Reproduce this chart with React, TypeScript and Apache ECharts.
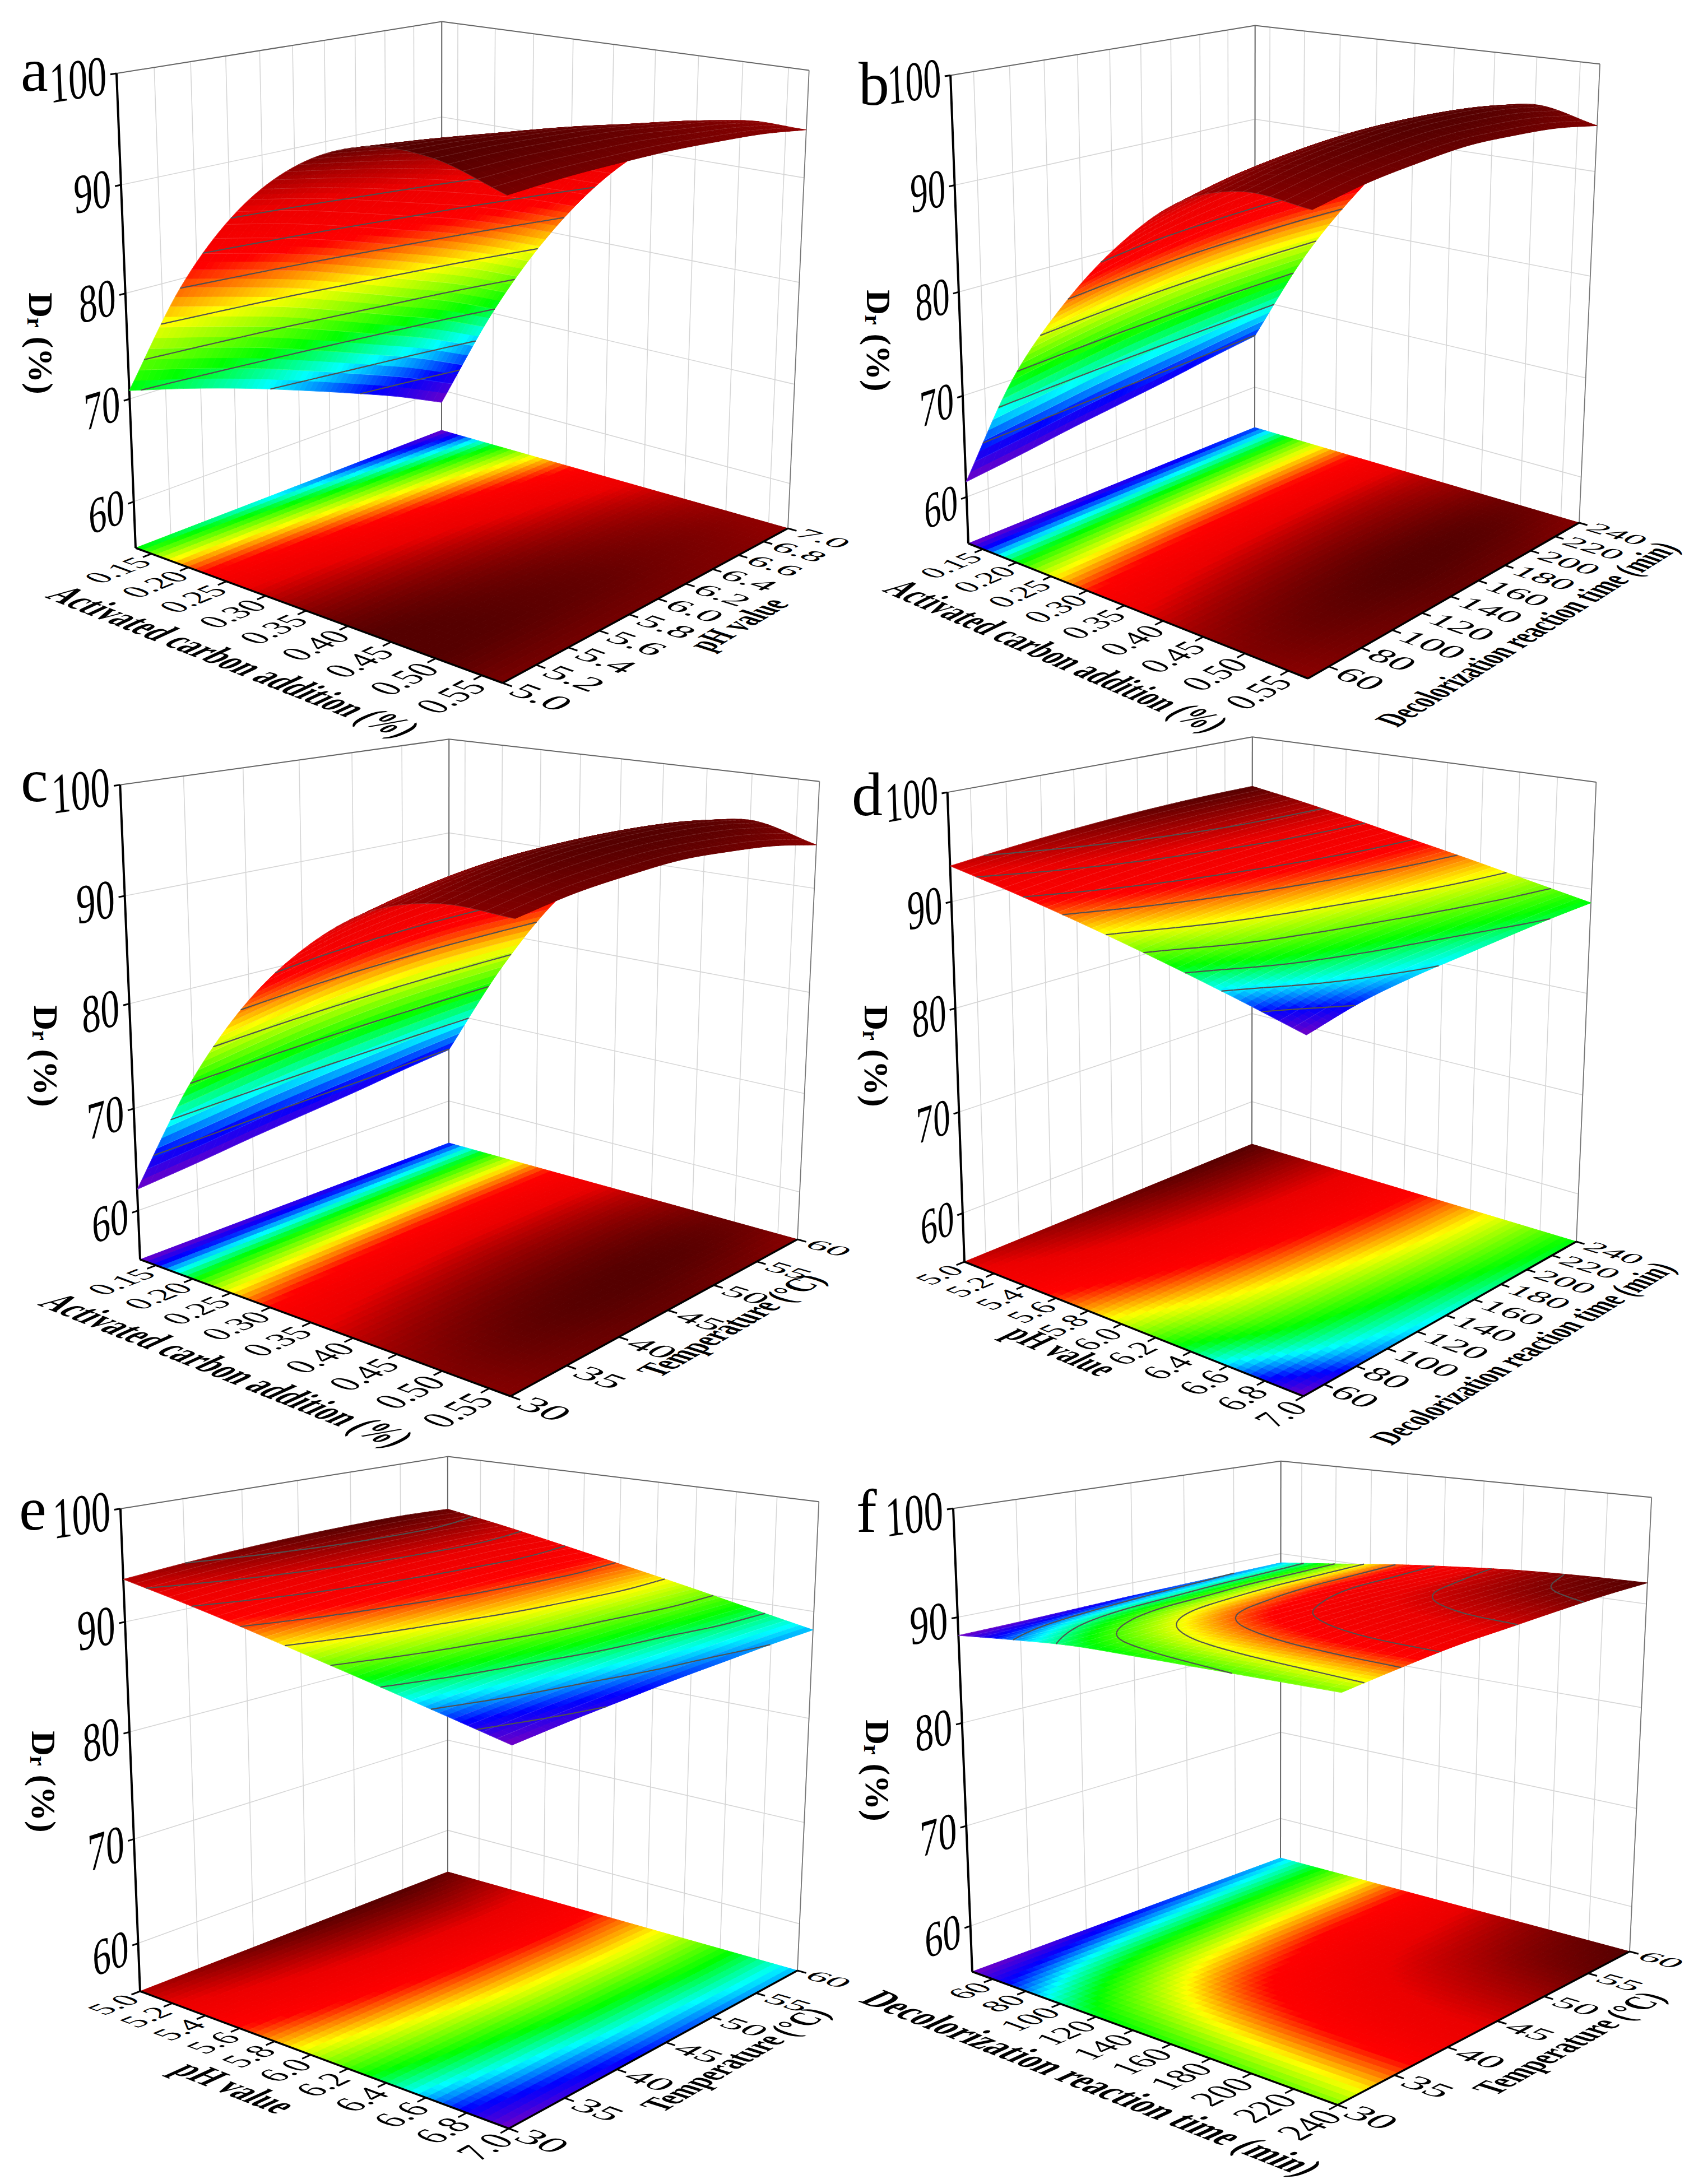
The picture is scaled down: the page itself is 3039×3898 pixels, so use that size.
import React, { useEffect, useRef } from "react";
import * as echarts from "echarts";

// ---------- tick labels ----------
const carbonLabels = ["0.15", "0.20", "0.25", "0.30", "0.35", "0.40", "0.45", "0.50", "0.55"];
const phLabels = ["5.0", "5.2", "5.4", "5.6", "5.8", "6.0", "6.2", "6.4", "6.6", "6.8", "7.0"];
const timeLabels = ["60", "80", "100", "120", "140", "160", "180", "200", "220", "240"];
const tempLabels = ["30", "35", "40", "45", "50", "55", "60"];
const zLabels = ["60", "70", "80", "90", "100"];

// ---------- surface values: rows = y-axis steps, columns = x-axis steps ----------
const surfaceA = [
  [70.8, 81.9, 89.9, 95.0, 97.5, 97.6, 95.8],
  [69.2, 80.4, 88.7, 94.1, 97.0, 97.5, 96.0],
  [67.4, 78.8, 87.2, 93.1, 96.3, 97.2, 96.0],
  [65.4, 76.9, 85.6, 91.9, 95.5, 96.8, 95.9],
  [63.3, 74.9, 84.0, 90.4, 94.5, 96.1, 95.6],
  [61.1, 72.9, 82.1, 89.0, 93.4, 95.4, 95.2],
  [58.6, 70.5, 80.0, 87.2, 92.0, 94.4, 94.5],
];
const surfaceB = [
  [61.5, 73.0, 81.3, 87.8, 92.5, 94.4, 94.0],
  [62.2, 73.9, 82.4, 89.2, 93.6, 95.4, 94.9],
  [63.0, 74.7, 83.2, 90.2, 94.3, 96.1, 95.4],
  [63.7, 75.3, 83.8, 90.8, 94.7, 96.5, 95.7],
  [64.4, 75.7, 84.1, 91.1, 94.7, 96.5, 95.5],
  [65.2, 75.9, 84.2, 91.0, 94.4, 96.2, 95.1],
  [65.9, 76.0, 84.0, 90.5, 93.8, 95.5, 94.3],
];
const surfaceC = [
  [62.1, 73.5, 82.3, 88.6, 92.8, 94.5, 94.4],
  [62.7, 74.4, 83.4, 90.0, 93.9, 95.6, 95.2],
  [63.4, 75.2, 84.3, 90.9, 94.7, 96.3, 95.6],
  [64.0, 75.8, 84.9, 91.5, 95.0, 96.6, 95.8],
  [64.6, 76.2, 85.2, 91.5, 95.0, 96.6, 95.5],
  [65.3, 76.4, 85.2, 91.2, 94.7, 96.3, 95.0],
  [65.9, 76.5, 85.0, 90.5, 94.0, 95.6, 94.1],
];
const surfaceD = [
  [93.3, 92.3, 91.2, 90.0, 88.7, 87.3, 85.8],
  [93.8, 92.85, 91.76, 90.6, 89.45, 88.2, 86.9],
  [94.2, 93.26, 92.2, 91.05, 89.9, 88.7, 87.5],
  [94.5, 93.57, 92.5, 91.4, 90.24, 89.05, 87.85],
  [94.7, 93.8, 92.75, 91.65, 90.54, 89.37, 88.2],
  [94.8, 93.9, 92.9, 91.84, 90.77, 89.63, 88.5],
  [94.8, 93.95, 92.97, 91.93, 90.9, 89.8, 88.7],
];
const surfaceE = [
  [93.8, 92.8, 91.7, 90.5, 89.3, 88.06, 86.8],
  [94.2, 93.2, 92.1, 90.9, 89.7, 88.46, 87.2],
  [94.5, 93.5, 92.4, 91.2, 90.0, 88.76, 87.5],
  [94.7, 93.73, 92.63, 91.46, 90.28, 89.04, 87.8],
  [94.8, 93.85, 92.76, 91.6, 90.45, 89.2, 88.0],
  [94.8, 93.88, 92.82, 91.7, 90.58, 89.39, 88.2],
  [94.6, 93.72, 92.7, 91.64, 90.57, 89.43, 88.3],
];
const surfaceF = [
  [88.3, 88.9, 89.4, 89.55, 89.65, 89.75, 89.85],
  [88.4, 89.2, 89.8, 90.15, 90.35, 90.45, 90.5],
  [88.55, 89.4, 90.1, 90.6, 90.85, 91.0, 91.05],
  [88.7, 89.5, 90.25, 90.8, 91.15, 91.3, 91.35],
  [88.8, 89.6, 90.35, 90.95, 91.35, 91.55, 91.65],
  [88.9, 89.65, 90.4, 91.0, 91.45, 91.75, 91.9],
  [89.0, 89.7, 90.45, 91.05, 91.55, 91.85, 92.0],
];

// ---------- contour levels ----------
const levelsA = [62.8, 66.5, 70.5, 74.2, 78, 81.8, 85.5, 89.2];
const levelsB = [66, 70, 74, 78, 82, 86];
const levelsC = [66, 70, 74, 78, 82, 86];
const levelsD = [86.8, 87.7, 88.5, 89.4, 90.2, 91.1, 91.9, 92.8, 93.6];
const levelsE = [87.4, 88.2, 89.1, 90, 90.85, 91.7, 92.6, 93.4, 94.2];
const levelsF = [88.9, 89.3, 89.7, 90.1, 90.5, 90.9, 91.4, 91.8];

// ---------- axes ----------
const carbonAxis = { labels: carbonLabels, min: 0.128, max: 0.572 };
const phAxis = { labels: phLabels, min: 5, max: 7 };
const timeAxis = { labels: timeLabels, min: 47.5, max: 240 };
const tempAxis = { labels: tempLabels, min: 30, max: 60 };

const XT_CARBON = "Activated carbon addition (%)";
const XT_PH = "pH value";
const XT_TIME = "Decolorization reaction time (min)";
const XT_TEMP = "Temperature (°C)";

// ---------- colour ramp ----------
const rampPos = [0, 0.11, 0.22, 0.33, 0.5, 0.65, 0.8, 1];
const rampRgb = [
  [116, 0, 196],
  [0, 0, 255],
  [0, 255, 255],
  [0, 255, 0],
  [255, 255, 0],
  [255, 0, 0],
  [235, 0, 0],
  [85, 0, 0],
];
function ramp(t: number) {
  const x = Math.max(0, Math.min(1, t));
  let i = 0;
  while (i < rampPos.length - 2 && x > rampPos[i + 1]) i++;
  const f = (x - rampPos[i]) / (rampPos[i + 1] - rampPos[i]);
  const m = rampRgb[i].map((a, k) => Math.round(a + (rampRgb[i + 1][k] - a) * f));
  return `rgb(${m[0]},${m[1]},${m[2]})`;
}

// ---------- panels: box corners on the page (L=left, B=back, R=right, F=front; b=floor, t=top) ----------
const panels: any[] = [
  {
    name: "a", letter: [37, 156], zTitle: [73, 613], z0: 55.4,
    Lt: [208, 133], Lb: [242, 978], Bt: [788, 40], Bb: [788, 768], Rt: [1444, 122], Rb: [1406, 943], Fb: [897, 1219],
    xA: carbonAxis, yA: phAxis, data: surfaceA, levels: levelsA, range: [58.6, 97.6],
    xT: XT_CARBON, xTp: [0.558, -0.254], xTs: [0.0018, 0.0025], yT: XT_PH, yTp: [1.19, 0.5], yTs: [0.0019, 0.0021],
  },
  {
    name: "b", letter: [1532, 181], zTitle: [1568, 608], z0: 55.3,
    Lt: [1697, 133], Lb: [1728, 970], Bt: [2239, 40], Bb: [2239, 763], Rt: [2855, 122], Rb: [2818, 933], Fb: [2334, 1211],
    xA: carbonAxis, yA: timeAxis, data: surfaceB, levels: levelsB, range: [61.5, 96.5],
    xT: XT_CARBON, xTp: [0.558, -0.25], xTs: [0.0018, 0.0025], yT: XT_TIME, yTp: [1.22, 0.435], yTs: [0.0018, 0.0021],
  },
  {
    name: "c", letter: [37, 1424], zTitle: [82, 1885], z0: 55.1,
    Lt: [215, 1408], Lb: [250, 2248], Bt: [801, 1313], Bb: [801, 2040], Rt: [1462, 1395], Rb: [1423, 2212], Fb: [911, 2492],
    xA: carbonAxis, yA: tempAxis, data: surfaceC, levels: levelsC, range: [62.1, 96.6],
    xT: XT_CARBON, xTp: [0.532, -0.252], xTs: [0.0018, 0.0025], yT: XT_TEMP, yTp: [1.136, 0.52], yTs: [0.002, 0.0021],
  },
  {
    name: "d", letter: [1520, 1449], zTitle: [1564, 1885], z0: 55.1,
    Lt: [1691, 1410], Lb: [1721, 2252], Bt: [2234, 1317], Bb: [2234, 2042], Rt: [2849, 1398], Rb: [2813, 2216], Fb: [2326, 2492],
    xA: phAxis, yA: timeAxis, data: surfaceD, levels: levelsD, range: [85.8, 94.8],
    xT: XT_PH, xTp: [0.495, -0.17], xTs: [0.00187, 0.0025], yT: XT_TIME, yTp: [1.225, 0.435], yTs: [0.0018, 0.0021],
  },
  {
    name: "e", letter: [34, 2724], zTitle: [78, 3180], z0: 55.3,
    Lt: [215, 2695], Lb: [250, 3554], Bt: [799, 2597], Bb: [799, 3341], Rt: [1461, 2681], Rb: [1423, 3517], Fb: [908, 3799],
    xA: phAxis, yA: tempAxis, data: surfaceE, levels: levelsE, range: [86.8, 94.8],
    xT: XT_PH, xTp: [0.495, -0.198], xTs: [0.00187, 0.0025], yT: XT_TEMP, yTp: [1.15, 0.52], yTs: [0.002, 0.0021],
  },
  {
    name: "f", letter: [1528, 2728], zTitle: [1566, 3160], z0: 55.35,
    Lt: [1702, 2694], Lb: [1735, 3519], Bt: [2285, 2600], Bb: [2285, 3316], Rt: [2947, 2680], Rb: [2908, 3483], Fb: [2387, 3757],
    xA: timeAxis, yA: tempAxis, data: surfaceF, levels: levelsF, range: [88.3, 92.0],
    xT: XT_TIME, xTp: [0.596, -0.222], xTs: [0.002, 0.0025], yT: XT_TEMP, yTp: [1.167, 0.5], yTs: [0.002, 0.0021],
  },
];

const FONT = "Liberation Serif";
const FLOOR_N = 50;
const SURF_N = 60;
const MESH_EVERY = 2;

// ---------- projection of (u, v, z) onto the page ----------
function makeProjector(p: any) {
  const [x0, y0] = p.Lb, [x1, y1] = p.Fb, [x2, y2] = p.Rb, [x3, y3] = p.Bb;
  const dx1 = x1 - x2, dx2 = x3 - x2, sx = x0 - x1 + x2 - x3;
  const dy1 = y1 - y2, dy2 = y3 - y2, sy = y0 - y1 + y2 - y3;
  const den = dx1 * dy2 - dx2 * dy1;
  const g = (sx * dy2 - dx2 * sy) / den;
  const h = (dx1 * sy - sx * dy1) / den;
  const a = x1 - x0 + g * x1, b = x3 - x0 + h * x3, c = x0;
  const d = y1 - y0 + g * y1, e = y3 - y0 + h * y3, f = y0;
  const base = (u: number, v: number) => [a * u + b * v + c, d * u + e * v + f, g * u + h * v + 1];
  const rows: number[][] = [];
  const rhs: number[] = [];
  const add = (u: number, v: number, top: number[]) => {
    const q = base(u, v);
    rows.push([1, 0, -top[0]]); rhs.push(top[0] * q[2] - q[0]);
    rows.push([0, 1, -top[1]]); rhs.push(top[1] * q[2] - q[1]);
  };
  add(0, 0, p.Lt); add(0, 1, p.Bt); add(1, 1, p.Rt);
  const N = [[0, 0, 0], [0, 0, 0], [0, 0, 0]];
  const M = [0, 0, 0];
  rows.forEach((r, k) => {
    for (let i = 0; i < 3; i++) {
      M[i] += r[i] * rhs[k];
      for (let j = 0; j < 3; j++) N[i][j] += r[i] * r[j];
    }
  });
  for (let i = 0; i < 3; i++) {
    for (let k = i + 1; k < 3; k++) {
      const t = N[k][i] / N[i][i];
      for (let j = i; j < 3; j++) N[k][j] -= t * N[i][j];
      M[k] -= t * M[i];
    }
  }
  const col = [0, 0, 0];
  for (let i = 2; i >= 0; i--) {
    let s = M[i];
    for (let j = i + 1; j < 3; j++) s -= N[i][j] * col[j];
    col[i] = s / N[i][i];
  }
  return (u: number, v: number, z: number) => {
    const w = (z - p.z0) / (100 - p.z0);
    const q = base(u, v);
    const W = q[2] + w * col[2];
    return [(q[0] + w * col[0]) / W, (q[1] + w * col[1]) / W];
  };
}

// ---------- drawing a smooth sheet through the read values ----------
function cr(p0: number, p1: number, p2: number, p3: number, t: number) {
  return 0.5 * (2 * p1 + (p2 - p0) * t + (2 * p0 - 5 * p1 + 4 * p2 - p3) * t * t + (-p0 + 3 * p1 - 3 * p2 + p3) * t * t * t);
}
function cr1d(a: number[], s: number) {
  const n = a.length;
  const x = s * (n - 1);
  const i = Math.min(n - 2, Math.floor(x));
  const t = x - i;
  const get = (k: number) => (k < 0 ? 2 * a[0] - a[1] : k >= n ? 2 * a[n - 1] - a[n - 2] : a[k]);
  return cr(get(i - 1), get(i), get(i + 1), get(i + 2), t);
}
function shadeGrid(data: number[][], n: number) {
  const out: number[][] = [];
  const cols = data[0].map((_, c) => data.map((r) => r[c]));
  const byV: number[][] = [];
  for (let j = 0; j <= n; j++) byV.push(cols.map((col) => cr1d(col, j / n)));
  for (let j = 0; j <= n; j++) {
    const row: number[] = [];
    for (let i = 0; i <= n; i++) row.push(cr1d(byV[j], i / n));
    out.push(row);
  }
  return out;
}

function contourSegs(pts: number[][], vals: number[], levels: number[]) {
  const segs: number[][][] = [];
  for (const lv of levels) {
    const cross: number[][] = [];
    for (let k = 0; k < 4; k++) {
      const a = vals[k], b = vals[(k + 1) % 4];
      if ((a < lv && b >= lv) || (a >= lv && b < lv)) {
        const t = (lv - a) / (b - a);
        const P = pts[k], Q = pts[(k + 1) % 4];
        cross.push([P[0] + (Q[0] - P[0]) * t, P[1] + (Q[1] - P[1]) * t]);
      }
    }
    if (cross.length >= 2) segs.push([cross[0], cross[1]]);
    if (cross.length === 4) segs.push([cross[2], cross[3]]);
  }
  return segs;
}

// ---------- build the marks of one panel ----------
function planeText(P: number[], vb: number[], vu: number[], text: string, style: any, align: string) {
  return { k: "text", P, vb, vu, text, style, align };
}

function buildPanel(p: any) {
  const items: any[] = [];
  const proj = makeProjector(p);
  const floorZ = p.z0;
  const line = (a: number[], b: number[], stroke: string, lw: number) => items.push({ k: "line", a, b, stroke, lw });
  const pos = (ax: any, lab: string) => (Number(lab) - ax.min) / (ax.max - ax.min);
  const grid = "#d6d6d6";

  // walls
  for (const lab of p.yA.labels) {
    const v = pos(p.yA, lab);
    line(proj(0, v, floorZ), proj(0, v, 100), grid, 1.6);
  }
  for (const lab of p.xA.labels) {
    const u = pos(p.xA, lab);
    line(proj(u, 1, floorZ), proj(u, 1, 100), grid, 1.6);
  }
  for (const lab of zLabels.slice(0, 4)) {
    const z = Number(lab);
    line(proj(0, 0, z), proj(0, 1, z), grid, 1.6);
    line(proj(0, 1, z), proj(1, 1, z), grid, 1.6);
  }
  line(proj(0, 0, 100), proj(0, 1, 100), "#666", 2);
  line(proj(0, 1, 100), proj(1, 1, 100), "#666", 2);
  line(proj(0, 1, floorZ), proj(0, 1, 100), "#666", 2);
  line(proj(1, 1, floorZ), proj(1, 1, 100), "#777", 1.8);

  // floor map
  const gF = shadeGrid(p.data, FLOOR_N);
  const tOf = (z: number) => (z - p.range[0]) / (p.range[1] - p.range[0]);
  for (let j = 0; j < FLOOR_N; j++) {
    for (let i = 0; i < FLOOR_N; i++) {
      const u0 = i / FLOOR_N, u1 = (i + 1) / FLOOR_N, v0 = j / FLOOR_N, v1 = (j + 1) / FLOOR_N;
      const m = (gF[j][i] + gF[j][i + 1] + gF[j + 1][i] + gF[j + 1][i + 1]) / 4;
      const col = ramp(tOf(m));
      items.push({
        k: "poly",
        pts: [proj(u0, v0, floorZ), proj(u1, v0, floorZ), proj(u1, v1, floorZ), proj(u0, v1, floorZ)],
        fill: col, stroke: col, lw: 1,
      });
    }
  }

  // floor frame, z axis
  line(proj(0, 0, floorZ), proj(1, 0, floorZ), "#000", 3.5);
  line(proj(1, 0, floorZ), proj(1, 1, floorZ), "#000", 3.5);
  line(proj(0, 0, floorZ), proj(0, 0, 100), "#000", 4);

  const tickStyle = { fontFamily: FONT, fontSize: 40, fill: "#000" };
  const titleStyle = { fontFamily: FONT, fontSize: 40, fontWeight: "bold", fill: "#000" };
  const e = 0.01;
  const jac = (u: number, v: number, z: number) => {
    const P = proj(u, v, z);
    const Pu = proj(u + e, v, z), Pv = proj(u, v + e, z);
    const w = (100 - p.z0) * e;
    const Pz = proj(u, v, z + w);
    return {
      P,
      Ju: [(Pu[0] - P[0]) / e, (Pu[1] - P[1]) / e],
      Jv: [(Pv[0] - P[0]) / e, (Pv[1] - P[1]) / e],
      Jw: [(Pz[0] - P[0]) / e, (Pz[1] - P[1]) / e],
    };
  };
  const mul = (a: number[], s: number) => [a[0] * s, a[1] * s];

  // z ticks + labels (lying on the left wall)
  for (const lab of zLabels) {
    const z = Number(lab);
    line(proj(0, -0.016, z), proj(0, 0, z), "#000", 3);
    const J = jac(0, -0.026, z);
    items.push(planeText(J.P, mul(J.Jv, 0.00246), mul(J.Jw, 0.0028), lab, tickStyle, "right"));
  }
  // x ticks + labels (lying on the floor)
  for (const lab of p.xA.labels) {
    const u = pos(p.xA, lab);
    line(proj(u, -0.024, floorZ), proj(u, 0, floorZ), "#000", 3);
    const J = jac(u + 0.012, -0.032, floorZ);
    items.push(planeText(J.P, mul(J.Jv, 0.0021), mul(J.Ju, -0.0022), lab, tickStyle, "right"));
  }
  // y ticks + labels
  for (const lab of p.yA.labels) {
    const v = pos(p.yA, lab);
    line(proj(1, v, floorZ), proj(1.022, v, floorZ), "#000", 3);
    const J = jac(1.03, v, floorZ);
    items.push(planeText(J.P, mul(J.Ju, 0.0024), mul(J.Jv, 0.0021), lab, tickStyle, "left"));
  }
  // axis titles
  {
    const J = jac(p.xTp[0], p.xTp[1], floorZ);
    items.push(planeText(J.P, mul(J.Ju, p.xTs[0]), mul(J.Jv, p.xTs[1]), p.xT, titleStyle, "center"));
    const K = jac(p.yTp[0], p.yTp[1], floorZ);
    items.push(planeText(K.P, mul(K.Jv, p.yTs[0]), mul(K.Ju, -p.yTs[1]), p.yT, titleStyle, "center"));
  }
  items.push({ k: "ztitle", P: p.zTitle });
  items.push({ k: "letter", P: p.letter, text: p.name });

  // surface, far to near; contour pieces follow one column later so the next strip does not clip them
  const gS = shadeGrid(p.data, SURF_N);
  let pending: any[] = [];
  for (let i = 0; i < SURF_N; i++) {
    const current: any[] = [];
    for (let j = SURF_N - 1; j >= 0; j--) {
      const u0 = i / SURF_N, u1 = (i + 1) / SURF_N, v0 = j / SURF_N, v1 = (j + 1) / SURF_N;
      const vals = [gS[j][i], gS[j][i + 1], gS[j + 1][i + 1], gS[j + 1][i]];
      const pts = [proj(u0, v0, vals[0]), proj(u1, v0, vals[1]), proj(u1, v1, vals[2]), proj(u0, v1, vals[3])];
      const m = (vals[0] + vals[1] + vals[2] + vals[3]) / 4;
      const col = ramp(tOf(m));
      const mesh: number[][][] = [];
      if (i % MESH_EVERY === 0) mesh.push([pts[0], pts[3]]);
      if (j % MESH_EVERY === 0) mesh.push([pts[0], pts[1]]);
      items.push({ k: "poly", pts, fill: col, stroke: col, lw: 1, mesh });
      current.push(...contourSegs(pts, vals, p.levels));
    }
    pending.forEach((s) => line(s[0], s[1], "#505050", 2.2));
    pending = current;
  }
  pending.forEach((s) => line(s[0], s[1], "#505050", 2.2));
  return items;
}

function textEl(it: any, api: any) {
  const c = api.coord(it.P);
  const a = it.vb[0], cc = it.vb[1], b = -it.vu[0], d = -it.vu[1];
  const E = (a + d) / 2, F = (a - d) / 2, G = (cc + b) / 2, H = (cc - b) / 2;
  const Q = Math.hypot(E, H), R = Math.hypot(F, G);
  const a1 = Math.atan2(G, F), a2 = Math.atan2(H, E);
  const theta = (a2 - a1) / 2, phi = (a2 + a1) / 2;
  return {
    type: "group", x: c[0], y: c[1], rotation: -phi, scaleX: Q + R, scaleY: Q - R,
    children: [{
      type: "text", rotation: -theta,
      style: { ...it.style, text: it.text, x: 0, y: 0, align: it.align, verticalAlign: "middle" },
    }],
  };
}

function makeRender(items: any[]) {
  const seg = (api: any, s: number[][], stroke: string, lw: number) => {
    const a = api.coord(s[0]), b = api.coord(s[1]);
    return { type: "line", shape: { x1: a[0], y1: a[1], x2: b[0], y2: b[1] }, style: { stroke, lineWidth: lw } };
  };
  return (params: any, api: any) => {
    const it = items[params.dataIndex];
    if (it.k === "line") return seg(api, [it.a, it.b], it.stroke, it.lw);
    if (it.k === "poly") {
      const poly = {
        type: "polygon",
        shape: { points: it.pts.map((q: number[]) => api.coord(q)) },
        style: { fill: it.fill, stroke: it.stroke, lineWidth: it.lw },
      };
      if (!it.mesh || !it.mesh.length) return poly;
      return {
        type: "group",
        children: [poly, ...it.mesh.map((s: number[][]) => seg(api, s, "rgba(255,255,255,0.16)", 1))],
      };
    }
    if (it.k === "text") return textEl(it, api);
    if (it.k === "letter") {
      const c = api.coord(it.P);
      return {
        type: "text",
        style: { text: it.text, x: c[0], y: c[1] + 24, fontFamily: FONT, fontSize: 110, fill: "#000", align: "left", verticalAlign: "bottom" },
      };
    }
    const c = api.coord(it.P);
    return {
      type: "text", x: c[0], y: c[1], rotation: -Math.PI / 2,
      style: {
        text: "{a|D}{b|r}{a| (%)}", x: 0, y: 0, align: "center", verticalAlign: "middle",
        rich: {
          a: { fontFamily: FONT, fontSize: 62, fontWeight: "bold", fill: "#000" },
          b: { fontFamily: FONT, fontSize: 40, fontWeight: "bold", fill: "#000", verticalAlign: "bottom" },
        },
      },
    };
  };
}

export default function App() {
  const ref = useRef<HTMLDivElement>(null);
  useEffect(() => {
    document.body.style.margin = "0";
    const chart = echarts.init(ref.current!, null, { renderer: "svg" });
    const series = panels.map((p) => {
      const items = buildPanel(p);
      return {
        type: "custom", name: p.name, coordinateSystem: "cartesian2d", silent: true, clip: false,
        progressive: 0, animation: false,
        renderItem: makeRender(items),
        data: items.map((_, i) => [i, 0]),
      };
    });
    chart.setOption({
      animation: false,
      backgroundColor: "#ffffff",
      grid: { left: 0, top: 0, right: 0, bottom: 0 },
      xAxis: { type: "value", min: 0, max: 3039, show: false },
      yAxis: { type: "value", min: 0, max: 3898, inverse: true, show: false },
      series,
    });
    return () => chart.dispose();
  }, []);
  return <div ref={ref} style={{ width: 3039, height: 3898 }} />;
}
